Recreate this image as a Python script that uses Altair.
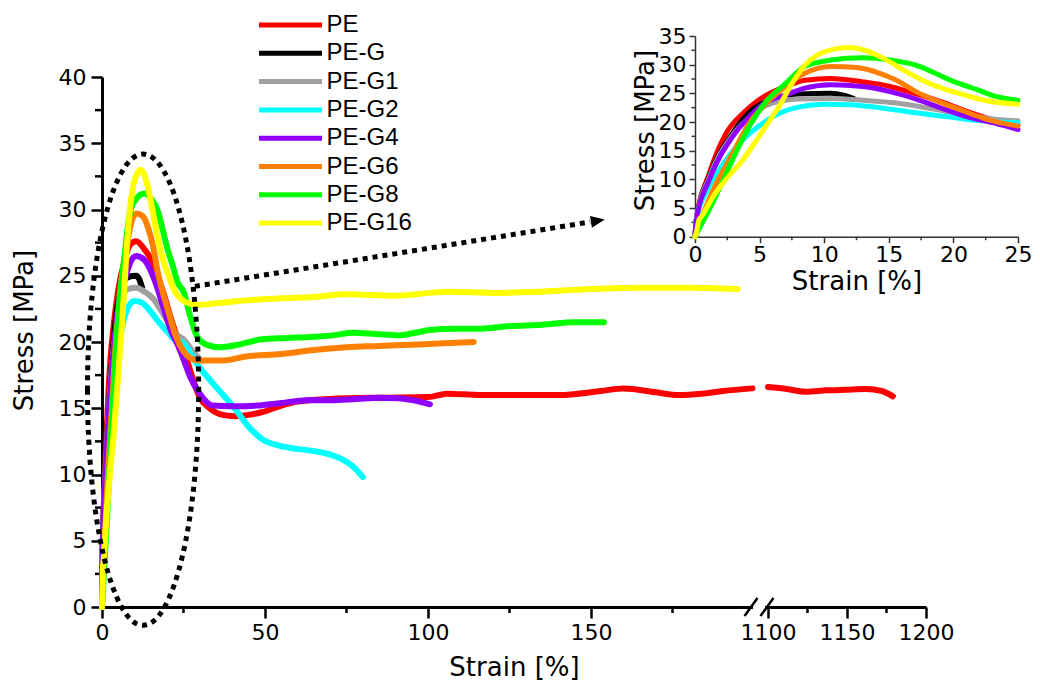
import altair as alt
import pandas as pd

series_names = ["PE", "PE-G", "PE-G1", "PE-G2", "PE-G4", "PE-G6", "PE-G8", "PE-G16"]
series_colors = ["#FF0000", "#000000", "#A0A0A0", "#00FFFF", "#8F00FF", "#FF8000", "#00FF00", "#FFFF00"]

pe_strain = [0, 0.1, 1.1, 2.4, 3.7, 4.9, 7.0, 8.5, 10.5, 13.0, 15.1, 17.1, 19.1, 21.1, 23.2, 25, 27, 30, 33, 37,
             41, 45, 49, 55, 60, 70, 85, 100, 106, 116, 125, 140, 153, 160, 170, 177, 184, 190.5, 199.5, 1100,
             1112, 1124, 1137, 1149, 1162, 1172, 1179]
pe_stress = [0, 2.9, 11.0, 18.0, 21.5, 23.8, 26.2, 27.3, 27.6, 27.0, 26.2, 24.9, 23.5, 21.8, 20.3, 19.5, 17.9, 15.8, 15.0, 14.5,
             14.4, 14.5, 14.7, 15.2, 15.5, 15.7, 15.8, 15.85, 16.1, 16.0, 16.0, 16.0, 16.3, 16.5, 16.2, 16.0, 16.1, 16.3, 16.5, 16.6,
             16.45, 16.25, 16.35, 16.4, 16.45, 16.3, 15.9]

peg_strain = [0, 0.1, 1.1, 2.9, 4.4, 6.0, 8.0, 10.5, 11.5, 12.3]
peg_stress = [0, 2.9, 10.5, 18.0, 22.1, 24.0, 24.9, 25.0, 24.7, 24.1]

g1_strain = [0, 0.1, 1.1, 2.9, 4.4, 6.0, 8.0, 10.5, 13.0, 15.6, 18.1, 20.6, 23.2, 25, 27.5, 30]
g1_stress = [0, 2.9, 10.3, 17.7, 21.2, 23.3, 24.0, 24.1, 23.8, 23.3, 22.4, 21.4, 20.5, 20.2, 19.4, 18.7]

g2_strain = [0, 0.1, 1.1, 2.4, 3.7, 4.9, 6.5, 8.0, 10.0, 12.0, 14.6, 17.1, 19.6, 22.2, 25, 29, 35, 41, 45, 49.5,
             54, 58, 64, 70, 74, 77, 80]
g2_stress = [0, 2.9, 8.7, 13.4, 16.9, 19.2, 21.5, 22.6, 23.1, 23.0, 22.4, 21.6, 20.9, 20.2, 19.9, 18.4, 16.6, 14.9, 13.6, 12.6,
             12.2, 12.0, 11.8, 11.5, 11.1, 10.6, 9.8]

g4_strain = [0, 0.1, 1.1, 2.9, 4.2, 5.4, 7.0, 8.5, 10.5, 13.0, 15.1, 17.1, 19.1, 21.1, 23.2, 25, 27, 30, 34, 40,
             47.5, 55, 63, 70, 78, 85, 91, 95.5, 100.6]
g4_stress = [0, 2.9, 9.9, 17.4, 20.9, 23.3, 24.7, 25.9, 26.5, 26.2, 25.3, 24.0, 22.4, 20.9, 19.8, 18.7, 17.4, 16.1, 15.2, 15.15,
             15.2, 15.4, 15.6, 15.6, 15.7, 15.8, 15.75, 15.6, 15.3]

g6_strain = [0, 0.25, 1.4, 2.9, 4.2, 5.4, 7.0, 8.5, 10.5, 12.5, 14.3, 15.6, 17.1, 18.6, 20.6, 22.4, 25, 27, 30, 37,
             44, 55, 65, 75, 85, 95, 105, 114]
g6_stress = [0, 1.7, 8.1, 14.5, 19.8, 23.0, 26.2, 28.5, 29.7, 29.5, 28.5, 27.3, 25.3, 23.8, 22.1, 20.6, 19.3, 18.8, 18.6, 18.6,
             18.9, 19.1, 19.4, 19.6, 19.7, 19.8, 19.9, 20.0]

g8_strain = [0, 0.4, 1.6, 2.9, 4.2, 5.4, 7.0, 8.5, 10.5, 13.0, 15.1, 17.1, 18.6, 20.1, 21.9, 23.2, 25, 27, 29, 32,
             36, 42, 49, 57, 65, 71, 77, 84, 91, 96, 100.6, 108, 116, 125, 135, 145, 154]
g8_stress = [0, 1.7, 7.0, 13.4, 19.2, 23.3, 26.7, 29.7, 30.8, 31.2, 30.8, 29.9, 28.5, 27.0, 25.6, 24.5, 23.8, 22.0, 20.5, 19.8,
             19.6, 19.8, 20.2, 20.3, 20.4, 20.5, 20.7, 20.6, 20.5, 20.7, 20.9, 21.0, 21.0, 21.2, 21.3, 21.5, 21.5]

g16_strain = [0, 0.1, 0.3, 0.5, 1.4, 2.4, 3.7, 4.7, 5.4, 6.5, 7.5, 8.5, 9.5, 11.0, 12.0, 13.0, 14.6, 16.1, 17.6, 19.1,
              20.6, 22.4, 25, 27, 30, 34, 42, 55, 65, 75, 90, 106, 121, 135, 150, 165, 180, 195]
g16_stress = [0, 0.6, 2.9, 3.5, 7.0, 10.0, 13.4, 16.6, 19.0, 22.7, 26.7, 29.9, 31.7, 32.8, 33.0, 32.6, 31.1, 29.1, 27.3, 25.9,
              24.9, 23.8, 23.1, 22.9, 22.8, 22.9, 23.1, 23.3, 23.4, 23.6, 23.5, 23.8, 23.7, 23.8, 24.0, 24.1, 24.1, 24.0]

all_strain = [pe_strain, peg_strain, g1_strain, g2_strain, g4_strain, g6_strain, g8_strain, g16_strain]
all_stress = [pe_stress, peg_stress, g1_stress, g2_stress, g4_stress, g6_stress, g8_stress, g16_stress]

main_x_ticks = [0, 50, 100, 150, 1100, 1150, 1200]
main_x_minor = [25, 75, 125, 175, 1125, 1175]
main_y_ticks = [0, 5, 10, 15, 20, 25, 30, 35, 40]
main_y_minor = [2.5, 7.5, 12.5, 17.5, 22.5, 27.5, 32.5, 37.5]
inset_x_ticks = [0, 5, 10, 15, 20, 25]
inset_x_minor = [2.5, 7.5, 12.5, 17.5, 22.5]
inset_y_ticks = [0, 5, 10, 15, 20, 25, 30, 35]
inset_y_minor = [2.5, 7.5, 12.5, 17.5, 22.5, 27.5, 32.5]

# annotation anchors (data coordinates)
ellipse_strain = [12.6]
ellipse_stress = [16.4]
arrow_strain = [28.5, 149.7]
arrow_stress = [24.2, 29.06]
head_strain = [152.1]
head_stress = [29.15]
break_left = 200
break_right = 1100

rows = []
for name, xs, ys in zip(series_names, all_strain, all_stress):
    for i, (x, y) in enumerate(zip(xs, ys)):
        rows.append({"series": name, "strain": x, "stress": y,
                     "seg": name + ("-b" if x > 1000 else "-a"), "idx": i})
curves = pd.DataFrame(rows)

W, H = 918, 599

mx_scale = alt.Scale(domain=[0, break_left, break_right, 1200], range=[0, 652, 666, 824], nice=False, zero=False)
my_scale = alt.Scale(domain=[0, 40], range=[599, 69], nice=False, zero=False)
mx_axis = alt.Axis(orient="bottom", values=main_x_ticks, format="d", title="Strain [%]",
                   tickSize=11, tickWidth=2.5, domainWidth=3, labelPadding=4, titlePadding=11)
my_axis = alt.Axis(orient="left", values=main_y_ticks, format="d", title="Stress [MPa]",
                   tickSize=11, tickWidth=2.5, domainWidth=3, labelPadding=5, titlePadding=21, titleY=322)
MX = alt.X("strain:Q", scale=mx_scale, axis=mx_axis)
MY = alt.Y("stress:Q", scale=my_scale, axis=my_axis)

ix_scale = alt.Scale(domain=[0, 25], range=[593, 916], nice=False, zero=False)
iy_scale = alt.Scale(domain=[0, 35], range=[228.7, 28], nice=False, zero=False)
ix_axis = alt.Axis(orient="bottom", offset=-370.3, values=inset_x_ticks, format="d", title="Strain [%]",
                   tickSize=6, tickWidth=1.5, domainWidth=1.5, domainColor="#333333", tickColor="#333333",
                   labelPadding=2, titlePadding=3)
iy_axis = alt.Axis(orient="left", offset=-593, values=inset_y_ticks, format="d", title="Stress [MPa]",
                   tickSize=6, tickWidth=1.5, domainWidth=1.5, domainColor="#333333", tickColor="#333333",
                   labelPadding=3, titlePadding=0, titleY=122)
IX = alt.X("strain:Q", scale=ix_scale, axis=ix_axis)
IY = alt.Y("stress:Q", scale=iy_scale, axis=iy_axis)

color = alt.Color("series:N", scale=alt.Scale(domain=series_names, range=series_colors),
                  legend=alt.Legend(title=None, orient="none", legendX=175.5, legendY=4,
                                    symbolType="M -3 0 L 3 0", symbolSize=441, symbolStrokeWidth=5,
                                    labelFont="Liberation Sans", labelFontSize=24, labelColor="black",
                                    labelOffset=23, rowPadding=3.3, padding=0))

main_lines = alt.Chart(curves).mark_line(strokeWidth=6, strokeCap="round", strokeJoin="round",
                                         interpolate="monotone").encode(
    x=MX, y=MY, color=color, detail="seg:N", order="idx:Q")

main_minor_x = alt.Chart(pd.DataFrame({"strain": main_x_minor})).mark_rule(
    strokeWidth=2.5, color="black").encode(x=MX, y=alt.value(H), y2=alt.value(H + 6))
main_minor_y = alt.Chart(pd.DataFrame({"stress": main_y_minor})).mark_rule(
    strokeWidth=2.5, color="black").encode(y=MY, x=alt.value(0), x2=alt.value(-7))

brk = pd.DataFrame({"strain": [break_left], "strain_b": [break_right], "stress": [0]})
brk_gap = alt.Chart(brk).mark_rule(color="white", strokeWidth=5, xOffset=-1, x2Offset=-3).encode(
    x=MX, x2=alt.X2("strain_b:Q"), y=MY)
slash1 = alt.Chart(pd.DataFrame({"strain": [break_left], "stress": [0]})).mark_rule(
    color="black", strokeWidth=2.5, xOffset=-9.5, x2Offset=3.5, yOffset=9, y2Offset=-9).encode(
    x=MX, x2=alt.X2("strain:Q"), y=MY, y2=alt.Y2("stress:Q"))
slash2 = alt.Chart(pd.DataFrame({"strain": [break_right], "stress": [0]})).mark_rule(
    color="black", strokeWidth=2.5, xOffset=-7.5, x2Offset=5.5, yOffset=9, y2Offset=-9).encode(
    x=MX, x2=alt.X2("strain:Q"), y=MY, y2=alt.Y2("stress:Q"))

ellipse = alt.Chart(pd.DataFrame({"strain": ellipse_strain, "stress": ellipse_stress})).mark_point(
    shape="M -0.236 0 A 0.236 1 0 1 0 0.236 0 A 0.236 1 0 1 0 -0.236 0 Z",
    size=222000, filled=False, stroke="black", strokeWidth=5, strokeDash=[5, 5], opacity=1).encode(x=MX, y=MY)
arrow = alt.Chart(pd.DataFrame({"strain": arrow_strain, "stress": arrow_stress})).mark_line(
    color="black", strokeWidth=5, strokeDash=[5, 5]).encode(x=MX, y=MY)
head = alt.Chart(pd.DataFrame({"strain": head_strain, "stress": head_stress})).mark_point(
    shape="M 1 0 L -1 -0.85 L -1 0.85 Z", size=196, angle=350.5, filled=True,
    color="black", opacity=1).encode(x=MX, y=MY)

main = alt.layer(main_minor_x, main_minor_y, brk_gap, slash1, slash2, main_lines, ellipse, arrow, head)

inset_lines = alt.Chart(curves).transform_filter("datum.strain <= 25").mark_line(
    strokeWidth=5, strokeCap="round", strokeJoin="round", interpolate="monotone").encode(
    x=IX, y=IY, color=color, detail="seg:N", order="idx:Q")
inset_minor_x = alt.Chart(pd.DataFrame({"strain": inset_x_minor})).mark_rule(
    strokeWidth=1.5, color="#333333").encode(x=IX, y=alt.value(228.7), y2=alt.value(232.2))
inset_minor_y = alt.Chart(pd.DataFrame({"stress": inset_y_minor})).mark_rule(
    strokeWidth=1.5, color="#333333").encode(y=IY, x=alt.value(593), x2=alt.value(589.5))

inset = alt.layer(inset_minor_x, inset_minor_y, inset_lines)

chart = alt.layer(main, inset).resolve_scale(x="independent", y="independent").properties(
    width=W, height=H,
    autosize=alt.AutoSizeParams(type="none"),
    padding={"left": 94, "top": 0, "right": 12, "bottom": 74},
).configure_view(stroke=None).configure_axis(
    labelFont="DejaVu Sans", labelFontSize=22, titleFont="DejaVu Sans", titleFontSize=26,
    titleFontWeight="normal", labelColor="black", titleColor="black",
    domainColor="black", tickColor="black", grid=False, labelFlush=False
)

chart.save("out.html", embed_options={"renderer": "svg", "actions": False})
